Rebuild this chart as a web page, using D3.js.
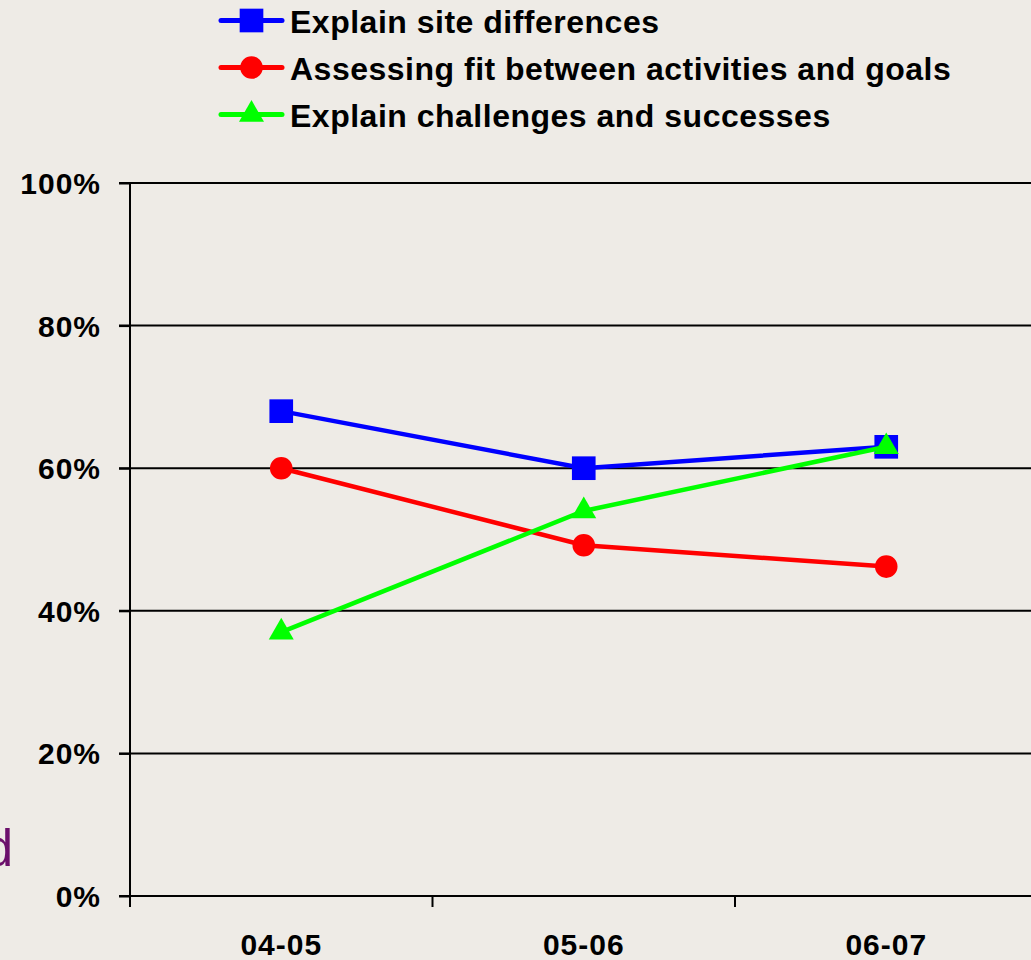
<!DOCTYPE html>
<html>
<head>
<meta charset="utf-8">
<script src="https://cdn.jsdelivr.net/npm/d3@7"></script>
<style>
  body{margin:0;background:#eeebe6;overflow:hidden}
  text{font-family:"Liberation Sans",Arial,sans-serif}
</style>
</head>
<body>
<script>
// chart data
let years=["04-05","05-06","06-07"]
let siteDiff=[68,60,63]
let fitGoals=[60,49.2,46.2]
let challenges=[37,54,63]
let yTicks=[0,20,40,60,80,100]
let seriesNames=["Explain site differences","Assessing fit between activities and goals","Explain challenges and successes"]

let width=1031,height=960
let svg=d3.select("body").append("svg").attr("width",width).attr("height",height)

// leftover text of the slide behind the chart
svg.append("text").attr("x",13).attr("y",866).attr("text-anchor","end").attr("font-size",51).attr("fill","#6b0f6b").text("d")

let xScale=d3.scaleBand().domain(years).range([130,1037.5])
let yScale=d3.scaleLinear().domain([0,100]).range([896,183])

// gridlines
svg.append("g").selectAll("line").data(yTicks.filter(d=>d>0)).enter().append("line")
  .attr("x1",119).attr("x2",width).attr("y1",d=>yScale(d)).attr("y2",d=>yScale(d))
  .attr("stroke","#000").attr("stroke-width",2)

// y axis
let axisY=d3.axisLeft(yScale).tickValues(yTicks).tickFormat(d=>d+"%").tickSize(11).tickPadding(18)
let gy=svg.append("g").attr("transform","translate(130,0)").call(axisY)
gy.select(".domain").attr("stroke-width",2).attr("d","M0,"+yScale(100)+"V"+(yScale(0)+11))
gy.selectAll(".tick line").attr("stroke-width",2)
gy.selectAll("text").attr("font-size",30).attr("font-weight","bold").attr("font-family","Liberation Sans, Arial, sans-serif")
  .attr("letter-spacing","1px").attr("fill","#000").attr("dy","0.35em")

// x axis
let gx=svg.append("g").attr("transform","translate(0,896)")
gx.append("line").attr("x1",119).attr("x2",width).attr("stroke","#000").attr("stroke-width",2)
gx.selectAll(".xt").data(years.slice(1)).enter().append("line").attr("class","xt")
  .attr("x1",d=>xScale(d)).attr("x2",d=>xScale(d)).attr("y1",0).attr("y2",11).attr("stroke","#000").attr("stroke-width",2)
gx.selectAll(".xl").data(years).enter().append("text").attr("class","xl")
  .attr("x",d=>xScale(d)+xScale.bandwidth()/2).attr("y",59).attr("text-anchor","middle")
  .attr("font-size",30).attr("font-weight","bold").attr("letter-spacing","1px").text(d=>d)

let cx=d=>xScale(d)+xScale.bandwidth()/2
let line=d3.line().x(d=>cx(d.year)).y(d=>yScale(d.v))

let series=[
  {name:seriesNames[0],values:siteDiff,color:"#0000ff",shape:d3.symbolSquare,size:560},
  {name:seriesNames[1],values:fitGoals,color:"#ff0000",shape:d3.symbolCircle,size:400},
  {name:seriesNames[2],values:challenges,color:"#00ff00",shape:d3.symbolTriangle,size:270}
]

series.forEach(s=>{
  let pts=years.map((y,i)=>({year:y,v:s.values[i]}))
  svg.append("path").attr("d",line(pts)).attr("fill","none").attr("stroke",s.color).attr("stroke-width",4.5)
  svg.selectAll(null).data(pts).enter().append("path")
    .attr("d",d3.symbol().type(s.shape).size(s.size))
    .attr("transform",d=>"translate("+cx(d.year)+","+yScale(d.v)+")")
    .attr("fill",s.color)
})

// legend
let legend=svg.append("g")
series.forEach((s,i)=>{
  let yy=20.5+i*47
  legend.append("line").attr("x1",221).attr("x2",282).attr("y1",yy).attr("y2",yy).attr("stroke",s.color).attr("stroke-width",5).attr("stroke-linecap","round")
  legend.append("path").attr("d",d3.symbol().type(s.shape).size(s.size)).attr("transform","translate(251.5,"+yy+")").attr("fill",s.color)
  legend.append("text").attr("x",290).attr("y",yy+12.5).attr("font-size",32).attr("font-weight","bold").attr("letter-spacing","0.5px").text(s.name)
})
</script>
</body>
</html>
